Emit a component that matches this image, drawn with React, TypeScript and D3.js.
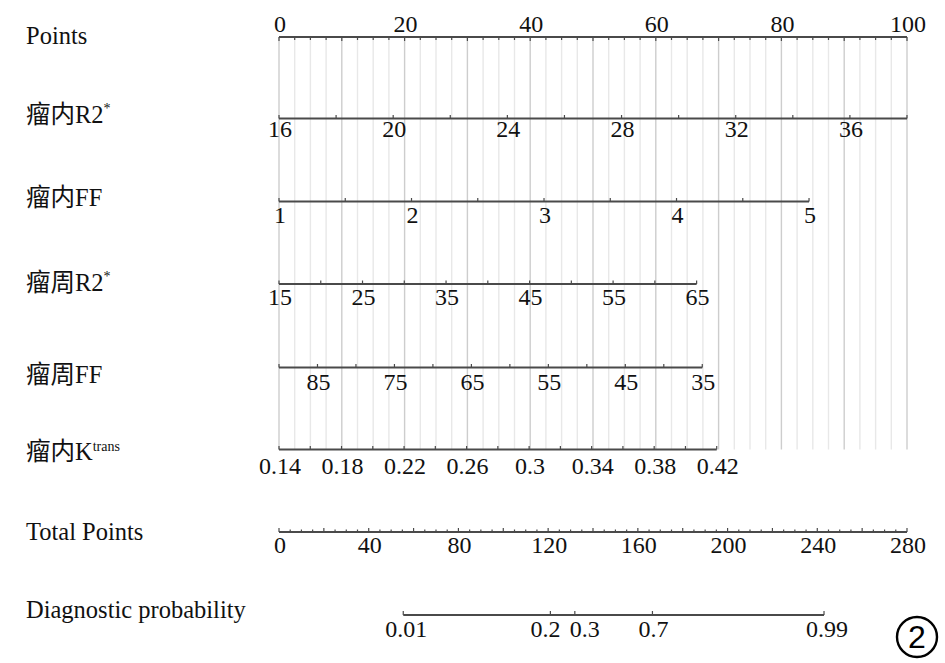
import { useEffect, useRef } from "react"
import * as d3 from "d3"

// nomogram rows
const rowNames = ["瘤内R2", "瘤内FF", "瘤周R2", "瘤周FF", "瘤内K"]
const rowSups = ["*", "", "*", "", "trans"]
const rowDomains: [number, number][] = [
  [16, 38],
  [1, 5],
  [15, 65],
  [90, 35],
  [0.14, 0.42],
]
const rowMaxPoints = [100, 84.4, 66.5, 67.4, 69.7]
const rowTickSteps = [2, 0.5, 5, 5, 0.02]
const rowTickLabels = [
  [16, 20, 24, 28, 32, 36],
  [1, 2, 3, 4, 5],
  [15, 25, 35, 45, 55, 65],
  [85, 75, 65, 55, 45, 35],
  [0.14, 0.18, 0.22, 0.26, 0.3, 0.34, 0.38, 0.42],
]

const pointsLabels = [0, 20, 40, 60, 80, 100]
const totalLabels = [0, 40, 80, 120, 160, 200, 240, 280]
const probTicks = [0.01, 0.2, 0.3, 0.7, 0.99]
// total points where each probability tick sits
const probTotalPoints = [55.4, 121, 131.9, 166.5, 243]

export default function App() {
  const svgRef = useRef<SVGSVGElement>(null)

  useEffect(() => {
    document.body.style.margin = "0"
    if (!svgRef.current) return

    const svg = d3.select(svgRef.current)
    svg.selectAll("*").remove()

    const width = 945
    const height = 663
    const x0 = 279
    const x1 = 907
    const axisColor = "#4a4a4a"
    const font = "'Liberation Serif', 'Times New Roman', 'Noto Sans CJK SC', serif"

    svg.attr("width", width).attr("height", height).style("background", "#fff")

    // y of each axis line, top to bottom
    const lineY = [37, 118.5, 201.5, 284, 367.5, 449.5, 532, 615]
    const nameDy = [7, 4.5, 4.5, 7, 15, 10, 8, 3]
    const tickDy = [-5, 18, 21, 21, 22, 24, 21, 22]

    const pts = d3.scaleLinear().domain([0, 100]).range([x0, x1])
    const total = d3.scaleLinear().domain([0, 280]).range([x0, x1])

    // grid lines
    svg
      .append("g")
      .selectAll("line")
      .data(d3.range(0, 100.001, 2.5))
      .enter()
      .append("line")
      .attr("x1", (d) => pts(d))
      .attr("x2", (d) => pts(d))
      .attr("y1", lineY[0])
      .attr("y2", lineY[5])
      .attr("stroke", (d) => (d % 10 === 0 ? "#cdcdcd" : "#e8e8e8"))
      .attr("stroke-width", 1.4)

    const text = (sel: d3.Selection<any, any, any, any>, size = 24) =>
      sel.style("font-family", font).style("font-size", `${size}px`).attr("fill", "#111")

    // left labels
    const labels = ["Points", ...rowNames, "Total Points", "Diagnostic probability"]
    const sups = ["", ...rowSups, "", ""]
    labels.forEach((l, i) => {
      const t = svg
        .append("text")
        .attr("x", 26)
        .attr("y", lineY[i] + nameDy[i])
        .call(text, 24.5)
      t.append("tspan").text(l)
      if (sups[i]) {
        t.append("tspan")
          .attr("dy", sups[i] === "*" ? -10 : -9)
          .style("font-size", "14px")
          .text(sups[i])
      }
    })

    // Points axis
    const pg = svg.append("g")
    pg.append("line")
      .attr("x1", x0)
      .attr("x2", x1)
      .attr("y1", lineY[0])
      .attr("y2", lineY[0])
      .attr("stroke", axisColor)
      .attr("stroke-width", 2)
    pg.selectAll(".tk")
      .data(d3.range(0, 100.001, 2.5))
      .enter()
      .append("line")
      .attr("x1", (d) => pts(d))
      .attr("x2", (d) => pts(d))
      .attr("y1", lineY[0])
      .attr("y2", (d) => lineY[0] + (d % 10 === 0 ? 4 : 3))
      .attr("stroke", axisColor)
      .attr("stroke-width", 1.2)
    pg.selectAll(".lb")
      .data(pointsLabels)
      .enter()
      .append("text")
      .attr("x", (d) => pts(d) + 1)
      .attr("y", lineY[0] + tickDy[0])
      .attr("text-anchor", "middle")
      .call(text)
      .text((d) => d)

    // variable rows
    rowNames.forEach((_, i) => {
      const y = lineY[i + 1]
      const [a, b] = rowDomains[i]
      const sc = d3
        .scaleLinear()
        .domain([a, b])
        .range([x0, pts(rowMaxPoints[i])])
      const step = rowTickSteps[i]
      const n = Math.round(Math.abs(b - a) / step)
      const ticks = d3.range(0, n + 1).map((k) => a + Math.sign(b - a) * k * step)
      const g = svg.append("g")
      g.append("line")
        .attr("x1", sc(a))
        .attr("x2", sc(b))
        .attr("y1", y)
        .attr("y2", y)
        .attr("stroke", axisColor)
        .attr("stroke-width", 2)
      g.selectAll(".tk")
        .data(ticks)
        .enter()
        .append("line")
        .attr("x1", (d) => sc(d))
        .attr("x2", (d) => sc(d))
        .attr("y1", y)
        .attr("y2", y - 3.5)
        .attr("stroke", axisColor)
        .attr("stroke-width", 1.2)
      g.selectAll(".lb")
        .data(rowTickLabels[i])
        .enter()
        .append("text")
        .attr("x", (d) => sc(d) + 1)
        .attr("y", y + tickDy[i + 1])
        .attr("text-anchor", "middle")
        .call(text)
        .text((d) => String(d))
    })

    // Total Points axis
    const ty = lineY[6]
    const tg = svg.append("g")
    tg.append("line")
      .attr("x1", x0)
      .attr("x2", x1)
      .attr("y1", ty)
      .attr("y2", ty)
      .attr("stroke", axisColor)
      .attr("stroke-width", 2)
    tg.selectAll(".tk")
      .data(d3.range(0, 280.001, 5))
      .enter()
      .append("line")
      .attr("x1", (d) => total(d))
      .attr("x2", (d) => total(d))
      .attr("y1", ty)
      .attr("y2", (d) => ty - (d % 20 === 0 ? 4 : 2.5))
      .attr("stroke", axisColor)
      .attr("stroke-width", 1.2)
    tg.selectAll(".lb")
      .data(totalLabels)
      .enter()
      .append("text")
      .attr("x", (d) => total(d) + 1)
      .attr("y", ty + tickDy[6])
      .attr("text-anchor", "middle")
      .call(text)
      .text((d) => d)

    // Diagnostic probability axis
    const py = lineY[7]
    const labelDx = [3, -5, 10, 1, 3]
    const prob = probTicks.map((p, i) => ({ p, x: total(probTotalPoints[i]), dx: labelDx[i] }))
    const prg = svg.append("g")
    prg.append("line")
      .attr("x1", prob[0].x)
      .attr("x2", prob[prob.length - 1].x)
      .attr("y1", py)
      .attr("y2", py)
      .attr("stroke", axisColor)
      .attr("stroke-width", 2)
    prg.selectAll(".tk")
      .data(prob)
      .enter()
      .append("line")
      .attr("x1", (d) => d.x)
      .attr("x2", (d) => d.x)
      .attr("y1", py)
      .attr("y2", py - 4)
      .attr("stroke", axisColor)
      .attr("stroke-width", 1.2)
    prg.selectAll(".lb")
      .data(prob)
      .enter()
      .append("text")
      .attr("x", (d) => d.x + d.dx)
      .attr("y", py + tickDy[7])
      .attr("text-anchor", "middle")
      .call(text)
      .text((d) => String(d.p))

    // panel marker
    const mk = svg.append("g").attr("transform", "translate(917,637)")
    mk.append("circle").attr("r", 20).attr("fill", "none").attr("stroke", "#000").attr("stroke-width", 2.4)
    mk.append("text")
      .attr("text-anchor", "middle")
      .attr("y", 11)
      .style("font-family", "'Liberation Sans', Arial, sans-serif")
      .style("font-size", "32px")
      .attr("fill", "#000")
      .text("2")
  }, [])

  return <svg ref={svgRef} style={{ display: "block" }}></svg>
}
